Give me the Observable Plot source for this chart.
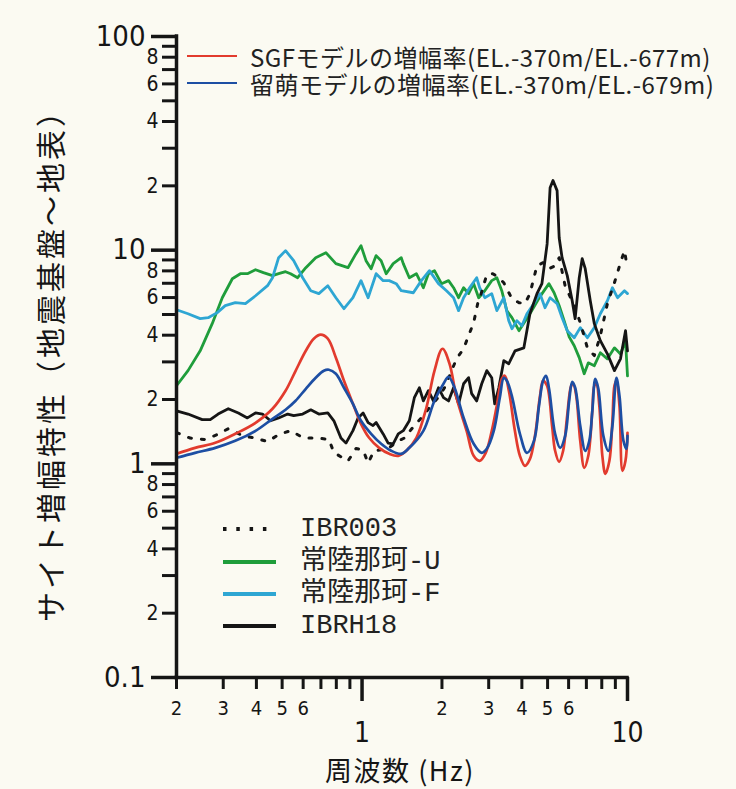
<!DOCTYPE html>
<html><head><meta charset="utf-8">
<script src="https://cdn.jsdelivr.net/npm/d3@7"></script>
<script src="https://cdn.jsdelivr.net/npm/@observablehq/plot@0.6"></script>
<style>
html,body{margin:0;padding:0;background:#fbfaf2;}
</style></head><body><div id="chart"></div>
<script>
// ---- tick values and labels ----
const xMinorTicks = [0.2,0.3,0.4,0.5,0.6,0.7,0.8,0.9,2,3,4,5,6,7,8,9];
const xMinorLabels = ["2","3","4","5","6","","","","2","3","4","5","6","","",""];
const xMajorTicks = [1, 10];
const xMajorLabels = ["1", "10"];
const yMinorTicks = [0.2,0.3,0.4,0.5,0.6,0.7,0.8,0.9,2,3,4,5,6,7,8,9,20,30,40,50,60,70,80,90];
const yMinorLabels = ["2","","4","","6","","8","","2","","4","","6","","8","","2","","4","","6","","8",""];
const yMajorTicks = [0.1, 1, 10, 100];
const yMajorLabels = ["0.1", "1", "10", "100"];

// ---- legend / axis texts ----
const modelNames = ["SGFモデルの増幅率(EL.-370m/EL.-677m)", "留萌モデルの増幅率(EL.-370m/EL.-679m)"];
const obsNames = ["IBR003", "常陸那珂-U", "常陸那珂-F", "IBRH18"];
const xTitle = "周波数 (Hz)";
const yTitle = "サイト増幅特性（地震基盤～地表）";

// ---- SGF model (red) ----
const sgfHz = [0.2,0.235,0.280,0.333,0.397,0.460,0.515,0.562,0.614,0.658,0.699,0.743,0.797,0.855,0.924,0.991,1.063,1.160,1.266,1.369,1.468,1.602,1.747,1.874,2.009,2.136,2.270,2.477,2.633,2.774,2.924,3.081,3.218,3.361,3.451,3.573,3.765,3.933,4.108,4.291,4.482,4.682,4.806,4.977,5.199,5.337,5.526,5.722,5.925,6.136,6.244,6.410,6.637,6.873,7.117,7.370,7.499,7.631,7.832,8.040,8.254,8.547,8.774,8.929,9.085,9.326,9.574,9.827,10];
const sgfAmp = [1.114,1.188,1.254,1.382,1.556,1.810,2.198,2.726,3.382,3.851,4.022,3.851,3.137,2.447,1.910,1.539,1.324,1.188,1.114,1.090,1.151,1.324,1.829,2.726,3.456,2.941,2.038,1.427,1.090,1.033,1.126,1.427,1.869,2.501,2.584,2.198,1.427,1.090,0.979,1.055,1.352,2.082,2.447,2.319,1.507,1.151,1.022,1.151,1.678,2.319,2.370,2.082,1.281,0.958,1.090,1.771,2.319,2.370,1.869,1.090,0.898,1.033,1.590,2.319,2.447,1.869,0.927,1.033,1.397];

// ---- Rumoi model (blue) ----
const rumoiHz = [0.2,0.235,0.280,0.333,0.397,0.460,0.515,0.562,0.614,0.669,0.718,0.750,0.797,0.855,0.924,0.991,1.082,1.180,1.288,1.405,1.507,1.702,1.874,2.027,2.118,2.231,2.413,2.633,2.824,2.950,3.135,3.303,3.421,3.512,3.667,3.933,4.180,4.443,4.642,4.806,4.933,5.064,5.337,5.575,5.824,6.030,6.190,6.353,6.637,6.934,7.180,7.370,7.565,7.766,8.111,8.472,8.774,9.085,9.326,9.656,9.913,10];
const rumoiAmp = [1.067,1.126,1.188,1.281,1.427,1.625,1.790,1.973,2.245,2.528,2.726,2.756,2.639,2.270,1.910,1.590,1.382,1.241,1.151,1.114,1.188,1.427,1.973,2.370,2.556,2.270,1.643,1.241,1.126,1.176,1.427,2.038,2.528,2.447,2.082,1.382,1.126,1.281,1.869,2.447,2.584,2.245,1.382,1.188,1.352,1.973,2.422,2.270,1.507,1.151,1.281,1.771,2.501,2.245,1.352,1.151,1.507,2.528,2.082,1.281,1.176,1.352];

// ---- IBR003 (dotted) ----
const ibr003Hz = [0.2,0.225,0.2565,0.2848,0.3134,0.357,0.397,0.4405,0.485,0.538,0.603,0.681,0.75,0.7833,0.885,0.949,1.009,1.054,1.11,1.254,1.369,1.442,1.574,1.673,1.794,1.957,2.045,2.174,2.27,2.413,2.52,2.633,2.727,2.824,2.95,3.108,3.275,3.42,3.51,3.67,3.90,4.11,4.29,4.56,4.81,5.06,5.34,5.53,5.82,6.30,6.64,7.06,7.50,7.90,8.40,8.93,9.41,9.74,10];
const ibr003Amp = [1.40,1.32,1.30,1.37,1.46,1.35,1.32,1.27,1.37,1.43,1.32,1.32,1.30,1.13,1.03,1.18,1.16,1.01,1.15,1.18,1.28,1.32,1.51,1.64,1.83,2.08,2.27,2.73,3.10,3.46,3.98,4.58,5.62,6.39,7.68,7.76,7.43,7.04,6.60,5.93,5.68,5.62,6.26,8.46,8.74,8.19,8.46,9.22,6.82,5.50,4.58,3.49,3.21,3.98,5.62,7.04,8.74,9.95,8.19];

// ---- 常陸那珂-U (green) ----
const nakaUHz = [0.2,0.221,0.2456,0.2726,0.2975,0.3246,0.348,0.370,0.397,0.425,0.460,0.485,0.515,0.538,0.572,0.614,0.669,0.731,0.797,0.885,0.949,0.991,1.035,1.082,1.130,1.18,1.233,1.31,1.405,1.43,1.507,1.602,1.702,1.778,1.874,1.992,2.118,2.212,2.31,2.413,2.52,2.633,2.75,2.90,3.08,3.22,3.36,3.51,3.67,3.90,4.29,4.68,5.06,5.29,5.53,5.77,6.03,6.30,6.58,6.87,7.12,7.50,7.90,8.40,8.93,9.41,9.83,10];
const nakaUAmp = [2.32,2.73,3.38,4.53,5.99,7.35,7.76,7.76,8.10,7.85,7.60,7.76,7.93,7.76,7.43,8.28,9.22,9.73,8.65,8.28,9.63,10.5,8.93,8.19,9.43,8.93,7.76,8.65,9.22,8.65,7.43,7.76,6.67,7.76,8.02,6.97,7.20,6.67,5.99,6.67,6.26,6.97,5.99,6.46,7.20,7.43,6.46,5.21,4.83,4.20,5.04,6.06,6.97,6.32,5.50,4.68,3.93,3.57,3.14,2.64,2.97,2.88,3.31,3.10,3.49,3.27,3.77,2.58];

// ---- 常陸那珂-F (cyan) ----
const nakaFHz = [0.2,0.221,0.2456,0.2633,0.2848,0.3053,0.333,0.3636,0.397,0.4405,0.460,0.485,0.515,0.5527,0.5976,0.641,0.6874,0.743,0.797,0.855,0.924,0.991,1.054,1.130,1.201,1.266,1.345,1.405,1.56,1.673,1.794,1.941,2.08,2.212,2.31,2.413,2.543,2.703,2.774,2.90,3.08,3.22,3.42,3.57,3.67,3.83,4.00,4.18,4.44,4.68,4.89,5.11,5.43,5.67,5.93,6.30,6.64,7.06,7.50,7.90,8.40,8.77,9.17,9.74,10];
const nakaFAmp = [5.26,5.04,4.78,4.83,5.10,5.50,5.68,5.62,6.12,6.82,7.43,9.22,9.95,8.93,7.43,6.46,6.26,6.82,5.99,5.32,5.99,7.20,5.99,7.76,7.20,7.20,6.97,6.46,6.32,7.20,8.02,6.97,6.46,5.99,5.21,5.99,6.67,7.43,6.67,5.99,6.26,5.21,5.99,4.68,4.29,4.68,4.43,5.04,5.62,6.26,5.38,5.99,5.62,4.83,4.20,3.89,4.34,3.89,4.34,5.04,5.80,6.67,5.99,6.46,6.26];

// ---- IBRH18 (black) ----
const ibrh18Hz = [0.2,0.221,0.25,0.268,0.287,0.3134,0.342,0.370,0.397,0.4217,0.452,0.485,0.5245,0.5527,0.5976,0.641,0.6874,0.743,0.7833,0.8326,0.87,0.924,0.966,1.009,1.054,1.10,1.13,1.201,1.254,1.31,1.369,1.43,1.507,1.574,1.644,1.702,1.778,1.857,1.941,2.027,2.118,2.212,2.31,2.413,2.52,2.588,2.703,2.824,2.95,3.08,3.16,3.275,3.42,3.57,3.77,4.07,4.29,4.56,4.76,4.98,5.11,5.24,5.43,5.53,5.67,5.93,6.19,6.35,6.58,6.75,6.93,7.24,7.50,7.90,8.40,8.93,9.41,9.83,10];
const ibrh18Amp = [1.77,1.71,1.61,1.61,1.71,1.81,1.73,1.64,1.73,1.71,1.59,1.64,1.71,1.68,1.71,1.79,1.71,1.73,1.59,1.32,1.25,1.43,1.64,1.73,1.56,1.51,1.56,1.38,1.25,1.24,1.38,1.43,1.59,2.04,2.27,1.97,2.20,1.97,2.27,2.04,1.97,2.27,1.91,2.37,2.53,2.13,1.97,2.37,2.73,2.53,1.91,2.27,3.04,2.94,3.38,3.49,5.04,6.26,6.97,10.7,19.6,21.2,19.0,11.4,9.22,7.60,5.80,4.78,7.43,9.12,8.19,5.80,4.53,3.77,3.27,2.73,3.10,4.20,3.38];

// ---- build rows ----
const rows = (hz, amp) => hz.map((f, i) => ({f, a: amp[i]}));
const ink = "#151515";
const colRed = "#e23b2e", colBlue = "#1d4ea3", colGreen = "#1f9d3b", colCyan = "#2ea6d3";
const numFont = "'Liberation Sans Narrow','DejaVu Sans Condensed','Roboto Condensed','Noto Sans CJK JP',sans-serif";
const jpFont = "'Noto Sans CJK JP','Noto Sans',sans-serif";
const monoFont = "'Liberation Mono','Noto Sans CJK JP',monospace";

const lab = (ticks, labels) => { const m = new Map(ticks.map((t, i) => [t, labels[i]])); return d => m.get(d) ?? ""; };

const plot = Plot.plot({
  width: 736, height: 789,
  marginLeft: 176, marginRight: 109, marginTop: 36, marginBottom: 112,
  x: {type: "log", domain: [0.2, 10], axis: null, label: null},
  y: {type: "log", domain: [0.1, 100], axis: null, label: null},
  style: {background: "#fbfaf2", color: ink, overflow: "visible"},
  marks: [
    Plot.line(rows(nakaUHz, nakaUAmp), {x: "f", y: "a", stroke: colGreen, strokeWidth: 2.8}),
    Plot.line(rows(nakaFHz, nakaFAmp), {x: "f", y: "a", stroke: colCyan, strokeWidth: 2.8}),
    Plot.line(rows(ibr003Hz, ibr003Amp), {x: "f", y: "a", stroke: ink, strokeWidth: 3, strokeDasharray: "3,10"}),
    Plot.line(rows(ibrh18Hz, ibrh18Amp), {x: "f", y: "a", stroke: ink, strokeWidth: 2.8}),
    Plot.line(rows(sgfHz, sgfAmp), {x: "f", y: "a", stroke: colRed, strokeWidth: 2.7, curve: "catmull-rom"}),
    Plot.line(rows(rumoiHz, rumoiAmp), {x: "f", y: "a", stroke: colBlue, strokeWidth: 2.7, curve: "catmull-rom"}),
    Plot.ruleX([0.2], {stroke: ink, strokeWidth: 3.5, strokeLinecap: "square"}),
    Plot.ruleY([0.1], {stroke: ink, strokeWidth: 3.5, strokeLinecap: "square"}),
    Plot.axisY(yMinorTicks, {anchor: "left", label: null, tickSize: 14, tickPadding: 4, strokeWidth: 3, stroke: ink, fill: ink,
      text: lab(yMinorTicks, yMinorLabels), fontSize: 21, fontFamily: numFont}),
    Plot.axisY(yMajorTicks, {anchor: "left", label: null, tickSize: 25, tickPadding: 6, strokeWidth: 3.5, stroke: ink, fill: ink,
      text: lab(yMajorTicks, yMajorLabels), fontSize: 29, fontFamily: numFont}),
    Plot.axisX(xMinorTicks, {anchor: "bottom", label: null, tickSize: 12, tickPadding: 11, strokeWidth: 3, stroke: ink, fill: ink,
      text: lab(xMinorTicks, xMinorLabels), fontSize: 20, fontFamily: numFont}),
    Plot.axisX(xMajorTicks, {anchor: "bottom", label: null, tickSize: 24, tickPadding: 21, strokeWidth: 3.5, stroke: ink, fill: ink,
      text: lab(xMajorTicks, xMajorLabels), fontSize: 28, fontFamily: numFont})
  ]
});

const svg = d3.select(plot);
// top legend (model curves)
const topLeg = [{c: colRed, y: 56}, {c: colBlue, y: 83}];
topLeg.forEach((d, i) => {
  svg.append("line").attr("x1", 187).attr("x2", 237).attr("y1", d.y).attr("y2", d.y)
    .attr("stroke", d.c).attr("stroke-width", 2.2);
  svg.append("text").attr("x", 250).attr("y", d.y).attr("text-anchor", "start").attr("dominant-baseline", "central")
    .attr("font-family", jpFont).attr("font-size", 24).attr("letter-spacing", 0.5).attr("fill", "#222").text(modelNames[i]);
});
// bottom legend (observations)
const botLeg = [
  {c: ink, y: 529, dash: "3.5,9.8"}, {c: colGreen, y: 562}, {c: colCyan, y: 594}, {c: ink, y: 626}
];
botLeg.forEach((d, i) => {
  const ln = svg.append("line").attr("x1", 223).attr("x2", 276).attr("y1", d.y).attr("y2", d.y)
    .attr("stroke", d.c).attr("stroke-width", 3.8);
  if (d.dash) ln.attr("stroke-dasharray", d.dash);
  svg.append("text").attr("x", 300).attr("y", d.y).attr("text-anchor", "start").attr("dominant-baseline", "central")
    .attr("font-family", monoFont).attr("font-size", 27).attr("fill", "#222").text(obsNames[i]);
});
// axis titles
svg.append("text").attr("x", 400).attr("y", 769).attr("text-anchor", "middle").attr("dominant-baseline", "central")
  .attr("font-family", jpFont).attr("font-size", 27).attr("letter-spacing", 1.5).attr("fill", ink).text(xTitle);
svg.append("text").attr("transform", "translate(49,358) rotate(-90)").attr("text-anchor", "middle")
  .attr("dominant-baseline", "central").attr("font-family", jpFont).attr("font-size", 30).attr("letter-spacing", 3)
  .attr("fill", ink).text(yTitle);

document.getElementById("chart").appendChild(plot);
</script>
</body></html>
